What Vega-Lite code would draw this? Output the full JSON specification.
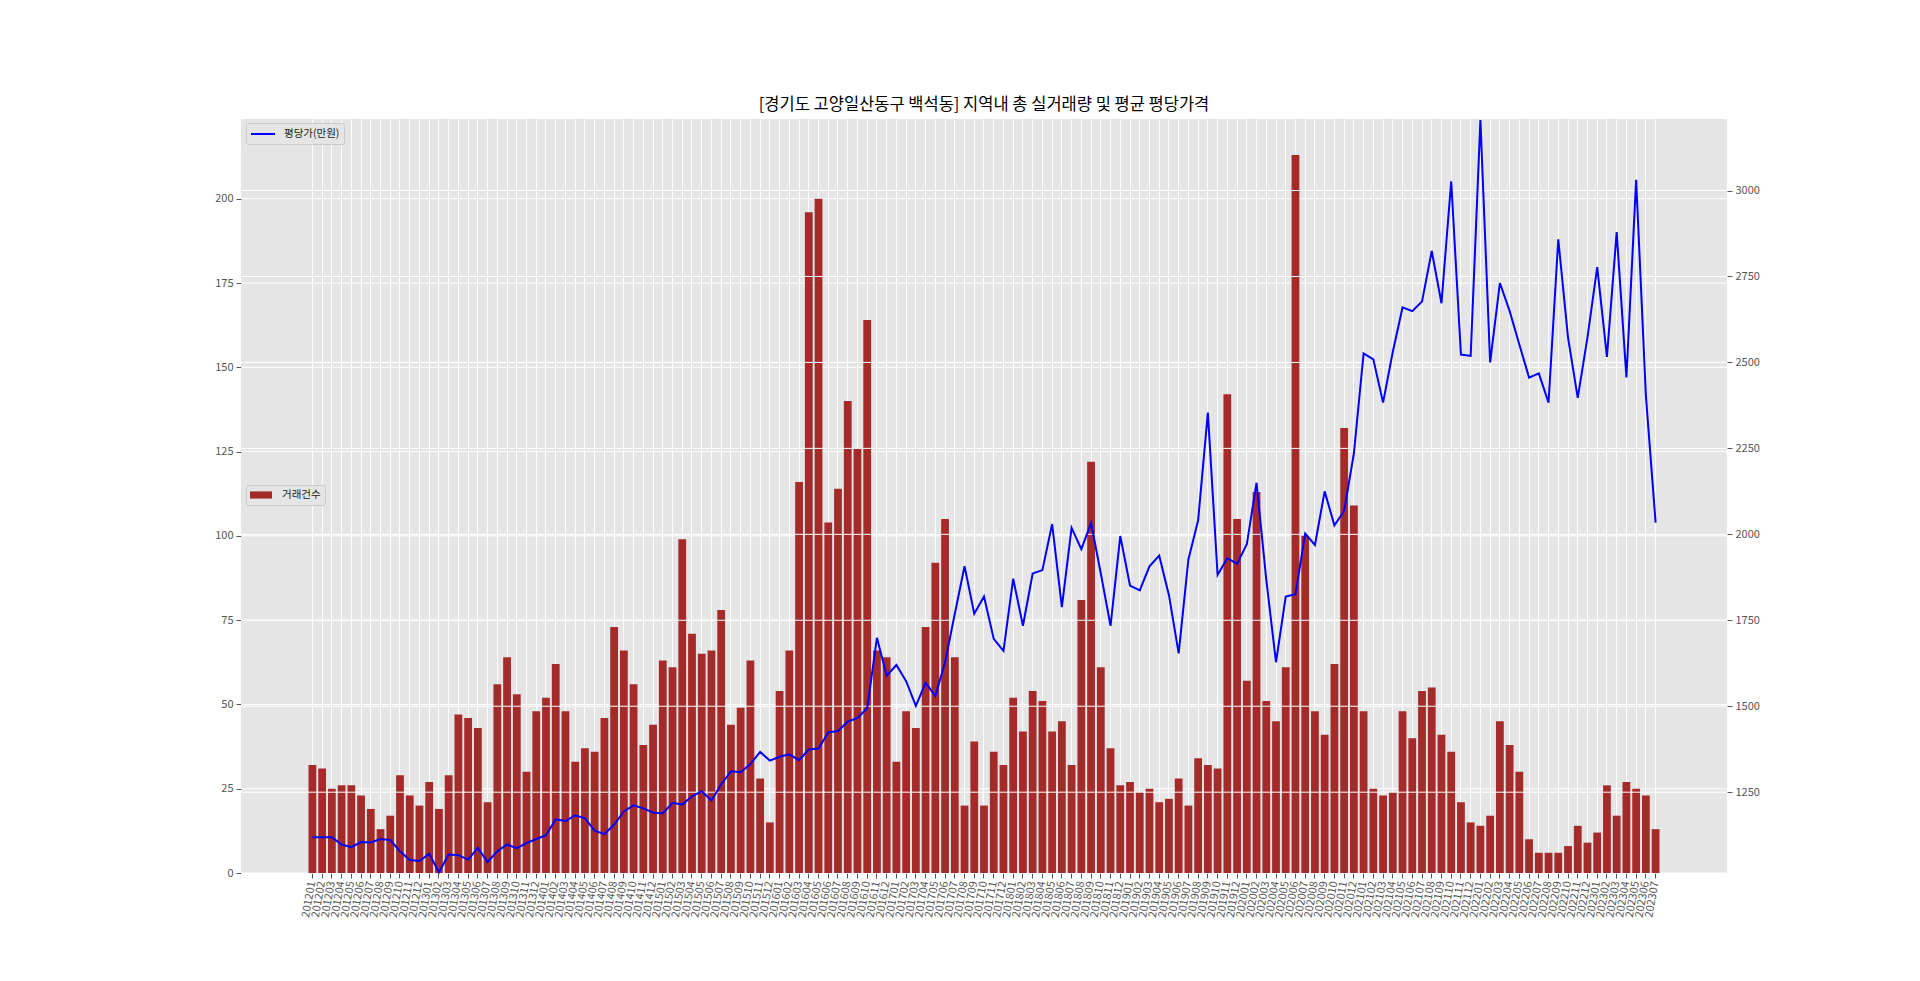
{
  "$schema": "https://vega.github.io/schema/vega-lite/v6.json",
  "width": 1486,
  "height": 754,
  "autosize": {"type": "none"},
  "padding": {"left": 241, "top": 119, "right": 193, "bottom": 108},
  "background": "white",
  "title": {"text": "[경기도 고양일산동구 백석동] 지역내 총 실거래량 및 평균 평당가격", "fontSize": 16.5, "font": "Noto Sans CJK KR", "fontWeight": "normal", "color": "#000000", "offset": 3, "anchor": "middle"},
  "datasets": {
    "main": [
    {"ym": "201201", "cnt": 32, "price": 1119}, {"ym": "201202", "cnt": 31, "price": 1119}, {"ym": "201203", "cnt": 25, "price": 1119},
    {"ym": "201204", "cnt": 26, "price": 1098}, {"ym": "201205", "cnt": 26, "price": 1090}, {"ym": "201206", "cnt": 23, "price": 1105},
    {"ym": "201207", "cnt": 19, "price": 1104}, {"ym": "201208", "cnt": 13, "price": 1114}, {"ym": "201209", "cnt": 17, "price": 1111},
    {"ym": "201210", "cnt": 29, "price": 1078}, {"ym": "201211", "cnt": 23, "price": 1053}, {"ym": "201212", "cnt": 20, "price": 1050},
    {"ym": "201301", "cnt": 27, "price": 1071}, {"ym": "201302", "cnt": 19, "price": 1017}, {"ym": "201303", "cnt": 29, "price": 1069},
    {"ym": "201304", "cnt": 47, "price": 1067}, {"ym": "201305", "cnt": 46, "price": 1054}, {"ym": "201306", "cnt": 43, "price": 1088},
    {"ym": "201307", "cnt": 21, "price": 1047}, {"ym": "201308", "cnt": 56, "price": 1078}, {"ym": "201309", "cnt": 64, "price": 1098},
    {"ym": "201310", "cnt": 53, "price": 1087}, {"ym": "201311", "cnt": 30, "price": 1102}, {"ym": "201312", "cnt": 48, "price": 1114},
    {"ym": "201401", "cnt": 52, "price": 1125}, {"ym": "201402", "cnt": 62, "price": 1171}, {"ym": "201403", "cnt": 48, "price": 1166},
    {"ym": "201404", "cnt": 33, "price": 1183}, {"ym": "201405", "cnt": 37, "price": 1174}, {"ym": "201406", "cnt": 36, "price": 1138},
    {"ym": "201407", "cnt": 46, "price": 1128}, {"ym": "201408", "cnt": 73, "price": 1156}, {"ym": "201409", "cnt": 66, "price": 1194},
    {"ym": "201410", "cnt": 56, "price": 1212}, {"ym": "201411", "cnt": 38, "price": 1203}, {"ym": "201412", "cnt": 44, "price": 1191},
    {"ym": "201501", "cnt": 63, "price": 1188}, {"ym": "201502", "cnt": 61, "price": 1219}, {"ym": "201503", "cnt": 99, "price": 1214},
    {"ym": "201504", "cnt": 71, "price": 1238}, {"ym": "201505", "cnt": 65, "price": 1253}, {"ym": "201506", "cnt": 66, "price": 1226},
    {"ym": "201507", "cnt": 78, "price": 1273}, {"ym": "201508", "cnt": 44, "price": 1311}, {"ym": "201509", "cnt": 49, "price": 1308},
    {"ym": "201510", "cnt": 63, "price": 1332}, {"ym": "201511", "cnt": 28, "price": 1367}, {"ym": "201512", "cnt": 15, "price": 1342},
    {"ym": "201601", "cnt": 54, "price": 1353}, {"ym": "201602", "cnt": 66, "price": 1360}, {"ym": "201603", "cnt": 116, "price": 1343},
    {"ym": "201604", "cnt": 196, "price": 1374}, {"ym": "201605", "cnt": 200, "price": 1377}, {"ym": "201606", "cnt": 104, "price": 1424},
    {"ym": "201607", "cnt": 114, "price": 1428}, {"ym": "201608", "cnt": 140, "price": 1455}, {"ym": "201609", "cnt": 126, "price": 1466},
    {"ym": "201610", "cnt": 164, "price": 1494}, {"ym": "201611", "cnt": 66, "price": 1699}, {"ym": "201612", "cnt": 64, "price": 1589},
    {"ym": "201701", "cnt": 33, "price": 1620}, {"ym": "201702", "cnt": 48, "price": 1573}, {"ym": "201703", "cnt": 43, "price": 1501},
    {"ym": "201704", "cnt": 73, "price": 1568}, {"ym": "201705", "cnt": 92, "price": 1530}, {"ym": "201706", "cnt": 105, "price": 1628},
    {"ym": "201707", "cnt": 64, "price": 1769}, {"ym": "201708", "cnt": 20, "price": 1907}, {"ym": "201709", "cnt": 39, "price": 1769},
    {"ym": "201710", "cnt": 20, "price": 1819}, {"ym": "201711", "cnt": 36, "price": 1696}, {"ym": "201712", "cnt": 32, "price": 1661},
    {"ym": "201801", "cnt": 52, "price": 1871}, {"ym": "201802", "cnt": 42, "price": 1734}, {"ym": "201803", "cnt": 54, "price": 1886},
    {"ym": "201804", "cnt": 51, "price": 1896}, {"ym": "201805", "cnt": 42, "price": 2030}, {"ym": "201806", "cnt": 45, "price": 1788},
    {"ym": "201807", "cnt": 32, "price": 2019}, {"ym": "201808", "cnt": 81, "price": 1957}, {"ym": "201809", "cnt": 122, "price": 2033},
    {"ym": "201810", "cnt": 61, "price": 1886}, {"ym": "201811", "cnt": 37, "price": 1734}, {"ym": "201812", "cnt": 26, "price": 1995},
    {"ym": "201901", "cnt": 27, "price": 1851}, {"ym": "201902", "cnt": 24, "price": 1837}, {"ym": "201903", "cnt": 25, "price": 1907},
    {"ym": "201904", "cnt": 21, "price": 1938}, {"ym": "201905", "cnt": 22, "price": 1823}, {"ym": "201906", "cnt": 28, "price": 1654},
    {"ym": "201907", "cnt": 20, "price": 1927}, {"ym": "201908", "cnt": 34, "price": 2041}, {"ym": "201909", "cnt": 32, "price": 2354},
    {"ym": "201910", "cnt": 31, "price": 1882}, {"ym": "201911", "cnt": 142, "price": 1931}, {"ym": "201912", "cnt": 105, "price": 1914},
    {"ym": "202001", "cnt": 57, "price": 1971}, {"ym": "202002", "cnt": 113, "price": 2150}, {"ym": "202003", "cnt": 51, "price": 1868},
    {"ym": "202004", "cnt": 45, "price": 1628}, {"ym": "202005", "cnt": 61, "price": 1819}, {"ym": "202006", "cnt": 213, "price": 1826},
    {"ym": "202007", "cnt": 100, "price": 2002}, {"ym": "202008", "cnt": 48, "price": 1969}, {"ym": "202009", "cnt": 41, "price": 2125},
    {"ym": "202010", "cnt": 62, "price": 2026}, {"ym": "202011", "cnt": 132, "price": 2068}, {"ym": "202012", "cnt": 109, "price": 2235},
    {"ym": "202101", "cnt": 48, "price": 2526}, {"ym": "202102", "cnt": 25, "price": 2509}, {"ym": "202103", "cnt": 23, "price": 2383},
    {"ym": "202104", "cnt": 24, "price": 2531}, {"ym": "202105", "cnt": 48, "price": 2660}, {"ym": "202106", "cnt": 40, "price": 2649},
    {"ym": "202107", "cnt": 54, "price": 2677}, {"ym": "202108", "cnt": 55, "price": 2824}, {"ym": "202109", "cnt": 41, "price": 2672},
    {"ym": "202110", "cnt": 36, "price": 3027}, {"ym": "202111", "cnt": 21, "price": 2523}, {"ym": "202112", "cnt": 15, "price": 2519},
    {"ym": "202201", "cnt": 14, "price": 3205}, {"ym": "202202", "cnt": 17, "price": 2500}, {"ym": "202203", "cnt": 45, "price": 2731},
    {"ym": "202204", "cnt": 38, "price": 2650}, {"ym": "202205", "cnt": 30, "price": 2552}, {"ym": "202206", "cnt": 10, "price": 2456},
    {"ym": "202207", "cnt": 6, "price": 2468}, {"ym": "202208", "cnt": 6, "price": 2383}, {"ym": "202209", "cnt": 6, "price": 2858},
    {"ym": "202210", "cnt": 8, "price": 2573}, {"ym": "202211", "cnt": 14, "price": 2397}, {"ym": "202212", "cnt": 9, "price": 2573},
    {"ym": "202301", "cnt": 12, "price": 2777}, {"ym": "202302", "cnt": 26, "price": 2516}, {"ym": "202303", "cnt": 17, "price": 2879},
    {"ym": "202304", "cnt": 27, "price": 2456}, {"ym": "202305", "cnt": 25, "price": 3031}, {"ym": "202306", "cnt": 23, "price": 2404},
    {"ym": "202307", "cnt": 13, "price": 2034}
    ],
    "leftgrid": [{"g": 0}, {"g": 25}, {"g": 50}, {"g": 75}, {"g": 100}, {"g": 125}, {"g": 150}, {"g": 175}, {"g": 200}],
    "rightgrid": [{"g": 1250}, {"g": 1500}, {"g": 1750}, {"g": 2000}, {"g": 2250}, {"g": 2500}, {"g": 2750}, {"g": 3000}]
  },
  "config": {
    "view": {"fill": "#E5E5E5", "stroke": null},
    "font": "Noto Sans CJK KR",
    "axis": {"labelColor": "#555555", "tickColor": "#555555", "domain": false, "gridColor": "#FFFFFF", "gridWidth": 1, "gridOpacity": 1, "labelFontSize": 11, "tickSize": 5, "labelPadding": 3, "title": null}
  },
  "layer": [
    {
      "layer": [
        {
          "data": {"name": "leftgrid"},
          "mark": {"type": "rule", "color": "#FFFFFF", "strokeWidth": 1},
          "encoding": {
            "y": {"field": "g", "type": "quantitative", "title": null, "scale": {"domain": [0, 223.65], "nice": false}}
          }
        },
        {
          "data": {"name": "main"},
          "mark": {"type": "bar", "color": "#A52A2A"},
          "encoding": {
            "x": {"field": "ym", "type": "ordinal", "sort": null, "title": null,
                  "scale": {"paddingInner": 0.2, "paddingOuter": 0, "range": [67.5, 1418.5]},
                  "axis": {"labelAngle": -80, "labelOverlap": false, "grid": true, "title": null, "labelFontSize": 11}},
            "y": {"field": "cnt", "type": "quantitative", "title": null, "scale": {"domain": [0, 223.65], "nice": false},
                  "axis": {"orient": "left", "values": [0, 25, 50, 75, 100, 125, 150, 175, 200], "grid": false, "title": null}},
            "fill": {"datum": "거래건수", "type": "nominal", "scale": {"range": ["#A52A2A"]},
                     "legend": {"orient": "none", "legendX": 5, "legendY": 366, "title": null,
                                "symbolType": "M-1,-0.6H2.67V0.6H-1Z", "symbolSize": 144, "symbolStrokeWidth": 0,
                                "labelFontSize": 10.5, "labelColor": "#222222", "labelOffset": 20,
                                "fillColor": "#E5E5E5", "strokeColor": "#CCCCCC", "padding": 4, "cornerRadius": 2}}
          }
        }
      ]
    },
    {
      "layer": [
        {
          "data": {"name": "rightgrid"},
          "mark": {"type": "rule", "color": "#FFFFFF", "strokeWidth": 1},
          "encoding": {
            "y": {"field": "g", "type": "quantitative", "title": null, "scale": {"domain": [1015, 3208], "nice": false, "zero": false}}
          }
        },
        {
          "data": {"name": "main"},
          "mark": {"type": "line", "color": "#0000FF", "strokeWidth": 2},
          "encoding": {
            "x": {"field": "ym", "type": "ordinal", "sort": null, "title": null},
            "y": {"field": "price", "type": "quantitative", "title": null, "scale": {"domain": [1015, 3208], "nice": false, "zero": false},
                  "axis": {"orient": "right", "values": [1250, 1500, 1750, 2000, 2250, 2500, 2750, 3000], "format": "d", "grid": false, "title": null}},
            "stroke": {"datum": "평당가(만원)", "type": "nominal", "scale": {"range": ["#0000FF"]},
                       "legend": {"orient": "none", "legendX": 5, "legendY": 4, "title": null,
                                  "symbolType": "M-1,0H3", "symbolSize": 144, "symbolStrokeWidth": 2,
                                  "labelFontSize": 10.5, "labelColor": "#222222", "labelOffset": 20,
                                  "fillColor": "#E5E5E5", "strokeColor": "#CCCCCC", "padding": 4, "cornerRadius": 2}}
          }
        }
      ]
    }
  ],
  "resolve": {"scale": {"y": "independent"}}
}
